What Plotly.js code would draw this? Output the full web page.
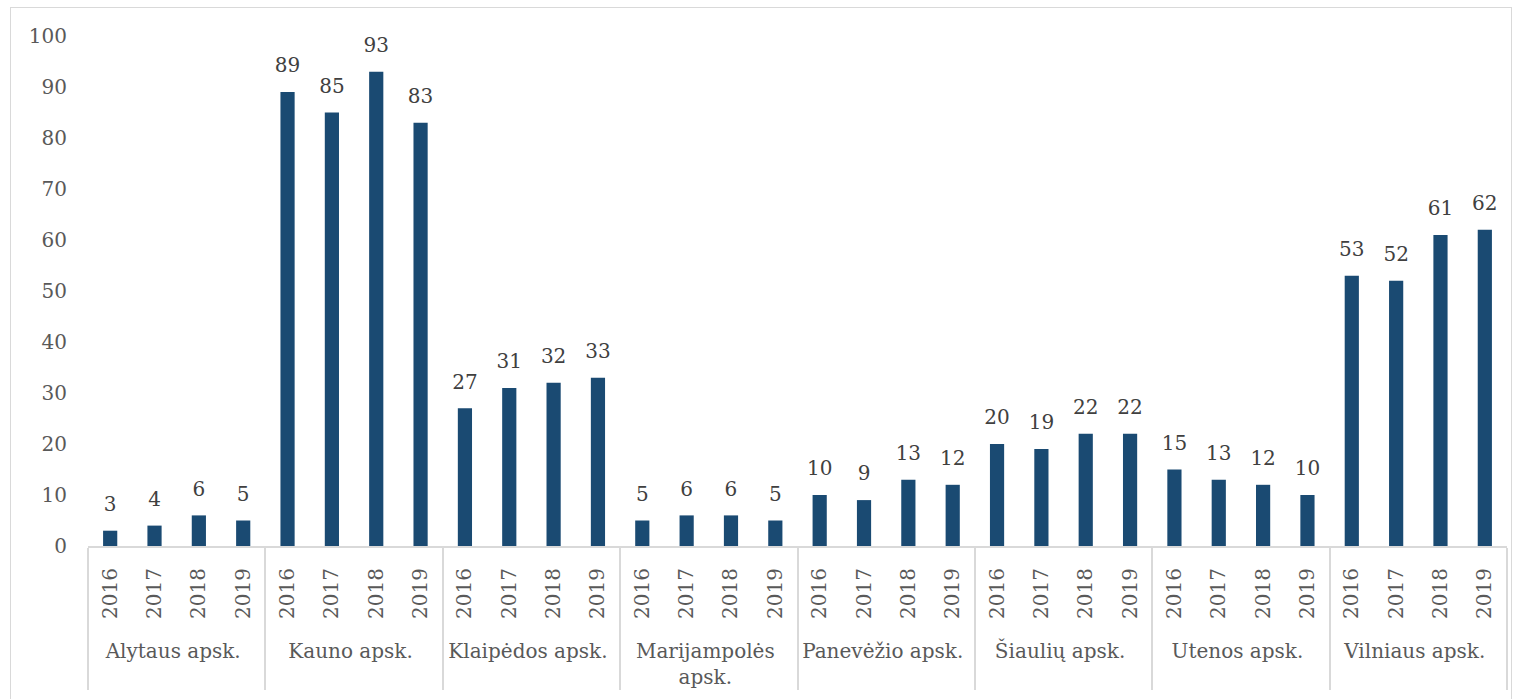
<!DOCTYPE html>
<html>
<head>
<meta charset="utf-8">
<script src="https://cdn.plot.ly/plotly-3.0.1.min.js"></script>
<style>
html,body{margin:0;padding:0;background:#fff;}
#chart{width:1514px;height:699px;position:relative;}
#frame{position:absolute;left:10px;top:7px;width:1500px;height:691px;border:1px solid #d9d9d9;border-bottom:none;pointer-events:none;}
</style>
</head>
<body>
<div id="chart"></div>
<div id="frame"></div>
<script>
const regions = ["Alytaus apsk.", "Kauno apsk.", "Klaipėdos apsk.", "Marijampolės<br>apsk.", "Panevėžio apsk.", "Šiaulių apsk.", "Utenos apsk.", "Vilniaus apsk."];
const years = ["2016", "2017", "2018", "2019"];
const alytaus = [3, 4, 6, 5];
const kauno = [89, 85, 93, 83];
const klaipedos = [27, 31, 32, 33];
const marijampoles = [5, 6, 6, 5];
const panevezio = [10, 9, 13, 12];
const siauliu = [20, 19, 22, 22];
const utenos = [15, 13, 12, 10];
const vilniaus = [53, 52, 61, 62];
const seriesByRegion = [alytaus, kauno, klaipedos, marijampoles, panevezio, siauliu, utenos, vilniaus];

// leading non-breaking spaces only pad the rotated year labels (layout spacing)
const pad = "\u00a0\u00a0";
const xOuter = [], xInner = [], yVals = [];
regions.forEach((r, i) => {
  years.forEach((yr, j) => {
    xOuter.push(r); xInner.push(pad + yr); yVals.push(seriesByRegion[i][j]);
  });
});

const font = "DejaVu Serif";
const bars = {
  type: "bar",
  x: [xOuter, xInner],
  y: yVals,
  marker: {color: "#1a4a72"},
  hoverinfo: "y"
};
const labels = {
  type: "scatter",
  mode: "markers+text",
  x: [xOuter, xInner],
  y: yVals,
  marker: {size: 22, opacity: 0, color: "#fff"},
  text: yVals.map(String),
  textposition: "top center",
  cliponaxis: false,
  textfont: {family: font, size: 20, color: "#404040"},
  hoverinfo: "skip"
};

const layout = {
  width: 1514, height: 699,
  margin: {l: 88, r: 7, t: 36, b: 153},
  paper_bgcolor: "#fff", plot_bgcolor: "#fff",
  showlegend: false,
  bargap: 0.68,
  font: {family: font, size: 20, color: "#595959"},
  xaxis: {
    type: "multicategory",
    range: [-0.5, xOuter.length - 0.5],
    tickangle: -90,
    showline: true, linecolor: "#d9d9d9", linewidth: 2,
    ticks: "", showgrid: false,
    ticklabelstandoff: 12,
    showdividers: true, dividercolor: "#d9d9d9", dividerwidth: 2,
    tickfont: {family: font, size: 20, color: "#595959"}
  },
  yaxis: {
    range: [0, 100], dtick: 10, showgrid: false, zeroline: false,
    showline: false, ticks: "", ticklabelstandoff: 20,
    tickfont: {family: font, size: 20, color: "#595959"}
  }
};

Plotly.newPlot("chart", [bars, labels], layout, {displayModeBar: false, staticPlot: true});
</script>
</body>
</html>
